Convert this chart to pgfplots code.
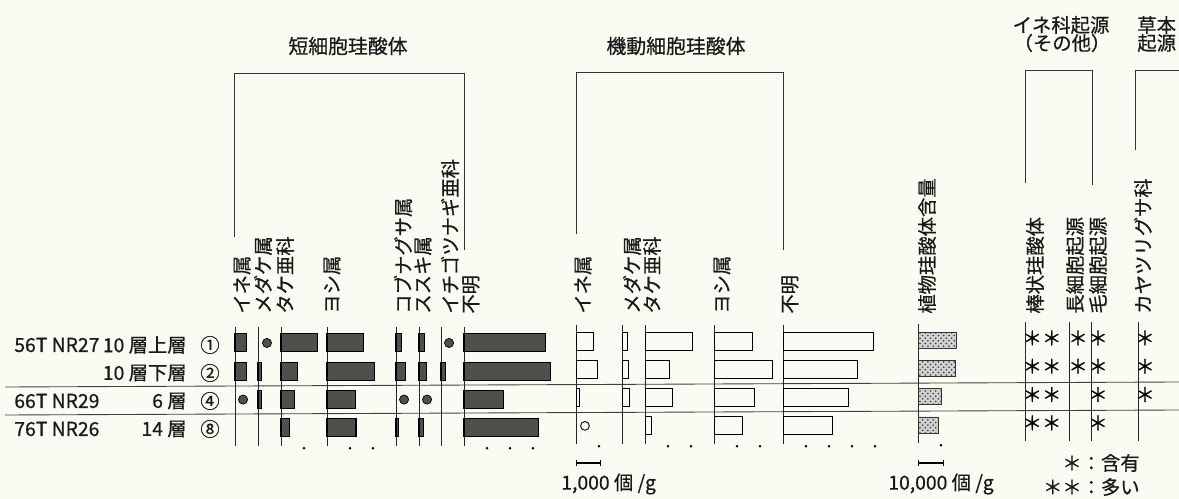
\documentclass[border=0pt]{standalone}
\usepackage{pgfplots}
\pgfplotsset{compat=1.18}
\usepackage{fontspec}
\setmainfont{Noto Sans CJK JP}[FakeBold=0.6]
\usetikzlibrary{patterns}

\definecolor{bg}{RGB}{252,251,243}
\definecolor{dk}{RGB}{80,80,74}
\newcommand{\fs}{\fontsize{11pt}{13pt}\selectfont}

% one column of the diagram: rows 1..4 run downwards, 23px on the page per 1000 (or 10000) grains/g
\pgfplotsset{
  col/.style={scale only axis, width=4.6mm, height=23.77mm,
    xmin=0, xmax=1000, ymin=0.45, ymax=4.65, y dir=reverse, clip=false,
    axis x line=none, axis y line=left, axis line style={-, line width=0.55pt, black!85},
    xtick=\empty, ytick=\empty, anchor=north west},
  sb/.style={xbar, bar width=3.6mm, fill=dk, draw=black, line width=0.6pt},
  mb/.style={xbar, bar width=3.6mm, fill=bg, draw=black, line width=0.5pt},
  tb/.style={xbar, bar width=3.2mm, fill=black!18, draw=black!80, line width=0.4pt,
    postaction={pattern=crosshatch dots, pattern color=black!80}},
  pr/.style={only marks, mark=*, mark size=2.6pt, mark options={fill=dk, draw=black}},
  tk/.style={only marks, mark=*, mark size=0.45pt, black},
  ast/.style={draw=none, point meta=explicit symbolic, nodes near coords,
    nodes near coords style={anchor=center, inner sep=0pt, font=\fs}},
}

\begin{document}
\begin{tikzpicture}
\begin{scope}[x=0.2mm, y=-0.2mm, every node/.style={font=\fs, inner sep=0pt, text=black!90}]
\fill[bg] (0,0) rectangle (1179,499);

% group brackets and titles
\draw[line width=0.5pt, black!80] (234,237) -- (234,73) -- (464,73) -- (464,250);
\draw[line width=0.5pt, black!80] (576,234) -- (576,72) -- (783,72) -- (783,250);
\draw[line width=0.5pt, black!80] (1025,183) -- (1025,70) -- (1092,70) -- (1092,185);
\draw[line width=0.5pt, black!80] (1135,150) -- (1135,70) -- (1190,70);
\node[font=\fontsize{11.3pt}{13pt}\selectfont] at (348,46) {短細胞珪酸体};
\node[font=\fontsize{11.3pt}{13pt}\selectfont] at (676,46) {機動細胞珪酸体};
\node at (1061,25) {イネ科起源};
\node at (1062,43) {（その他）};
\node[anchor=west] at (1137,25) {草本};
\node[anchor=west] at (1137,43) {起源};

% column labels
\foreach \x/\t in {242/イネ属, 263/メダケ属, 285/タケ亜科, 332/ヨシ属, 403/コブナグサ属,
    423/ススキ属, 450/イチゴツナギ亜科, 471/不明, 583/イネ属, 632/メダケ属, 652/タケ亜科,
    722/ヨシ属, 790/不明, 927/植物珪酸体含量, 1035/棒状珪酸体, 1075/長細胞起源,
    1098/毛細胞起源, 1143/カヤツリグサ科}
  \node[rotate=90, anchor=west] at (\x,314) {\t};

% sample labels
\node[anchor=west] at (14,345) {56T NR27};
\node[anchor=east] at (187,345) {10 層上層};
\node at (210,345) {①};
\node[anchor=east] at (187,373) {10 層下層};
\node at (210,373) {②};
\node[anchor=west] at (14,401) {66T NR29};
\node[anchor=east] at (187,401) {6 層};
\node at (210,401) {④};
\node[anchor=west] at (14,429) {76T NR26};
\node[anchor=east] at (187,429) {14 層};
\node at (210,429) {⑧};

% row separators
\draw[line width=0.5pt, black!75] (5,387) -- (1179,382);
\draw[line width=0.5pt, black!75] (5,415) -- (1179,410);

% scale bars and key
\draw[line width=1.3pt] (576,463) -- (600,463);
\draw[line width=0.4pt] (576,460) -- (576,466) (600,460) -- (600,466);
\node[anchor=west] at (561,484) {1,000 個 /g};
\draw[line width=1.3pt] (918,463) -- (943,463);
\draw[line width=0.4pt] (918,460) -- (918,466) (943,460) -- (943,466);
\node[anchor=west] at (888,484) {10,000 個 /g};
\node[anchor=east] at (1140,463) {＊：含有};
\node[anchor=east] at (1140,487) {＊＊：多い};
\end{scope}

% ---- short cell phytoliths (dark bars)
\begin{axis}[col, at={(235*0.2mm,-327.4*0.2mm)}]
\addplot[sb] coordinates {(520,1) (520,2)};
\addplot[pr] coordinates {(350,3)};
\end{axis}
\begin{axis}[col, at={(258*0.2mm,-327.4*0.2mm)}]
\addplot[sb] coordinates {(170,2) (150,3)};
\addplot[pr] coordinates {(390,1)};
\end{axis}
\begin{axis}[col, at={(281*0.2mm,-327.4*0.2mm)}]
\addplot[sb] coordinates {(1570,1) (700,2) (570,3) (350,4)};
\addplot[tk] coordinates {(1000,4.72)};
\end{axis}
\begin{axis}[col, at={(327*0.2mm,-327.4*0.2mm)}]
\addplot[sb] coordinates {(1570,1) (2070,2) (1250,3) (1260,4)};
\addplot[tk] coordinates {(1000,4.72) (2000,4.72)};
\end{axis}
\begin{axis}[col, at={(396*0.2mm,-327.4*0.2mm)}]
\addplot[sb] coordinates {(230,1) (410,2) (120,4)};
\addplot[pr] coordinates {(350,3)};
\end{axis}
\begin{axis}[col, at={(419*0.2mm,-327.4*0.2mm)}]
\addplot[sb] coordinates {(230,1) (320,2) (190,4)};
\addplot[pr] coordinates {(350,3)};
\end{axis}
\begin{axis}[col, at={(441*0.2mm,-327.4*0.2mm)}]
\addplot[sb] coordinates {(190,2)};
\addplot[pr] coordinates {(350,1)};
\end{axis}
\begin{axis}[col, at={(464*0.2mm,-327.4*0.2mm)}]
\addplot[sb] coordinates {(3550,1) (3770,2) (1720,3) (3230,4)};
\addplot[tk] coordinates {(1000,4.72) (2000,4.72) (3000,4.72)};
\end{axis}

% ---- motor cell phytoliths (open bars)
\begin{axis}[col, at={(576*0.2mm,-325.4*0.2mm)}]
\addplot[mb] coordinates {(750,1) (930,2) (150,3)};
\addplot[only marks, mark=o, mark size=2.5pt, mark options={line width=0.5pt}] coordinates {(390,4)};
\addplot[tk] coordinates {(1000,4.72)};
\end{axis}
\begin{axis}[col, at={(622*0.2mm,-325.4*0.2mm)}]
\addplot[mb] coordinates {(220,1) (260,2) (330,3)};
\end{axis}
\begin{axis}[col, at={(645*0.2mm,-325.4*0.2mm)}]
\addplot[mb] coordinates {(2070,1) (1060,2) (1190,3) (260,4)};
\addplot[tk] coordinates {(1000,4.72) (2000,4.72)};
\end{axis}
\begin{axis}[col, at={(714*0.2mm,-325.4*0.2mm)}]
\addplot[mb] coordinates {(1670,1) (2550,2) (1750,3) (1230,4)};
\addplot[tk] coordinates {(1000,4.72) (2000,4.72)};
\end{axis}
\begin{axis}[col, at={(783*0.2mm,-325.4*0.2mm)}]
\addplot[mb] coordinates {(3940,1) (3250,2) (2860,3) (2130,4)};
\addplot[tk] coordinates {(1000,4.72) (2000,4.72) (3000,4.72) (4000,4.72)};
\end{axis}

% ---- total phytolith content (scale 10,000 grains/g)
\begin{axis}[col, xmax=10000, at={(918*0.2mm,-324.4*0.2mm)}]
\addplot[tb] coordinates {(16700,1) (16400,2) (10100,3) (9000,4)};
\addplot[tk] coordinates {(10000,4.72)};
\end{axis}

% ---- presence columns (x in page px offset from the column line)
\begin{axis}[col, width=2mm, xmax=10, at={(1025*0.2mm,-322.4*0.2mm)}]
\addplot[ast] coordinates {(17,1) [＊＊] (17,2) [＊＊] (17,3) [＊＊] (17,4) [＊＊]};
\end{axis}
\begin{axis}[col, width=2mm, xmax=10, at={(1069*0.2mm,-322.4*0.2mm)}]
\addplot[ast] coordinates {(9,1) [＊] (9,2) [＊]};
\end{axis}
\begin{axis}[col, width=2mm, xmax=10, at={(1091*0.2mm,-322.4*0.2mm)}]
\addplot[ast] coordinates {(7,1) [＊] (7,2) [＊] (7,3) [＊] (7,4) [＊]};
\end{axis}
\begin{axis}[col, width=2mm, xmax=10, at={(1138*0.2mm,-322.4*0.2mm)}]
\addplot[ast] coordinates {(7,1) [＊] (7,2) [＊] (7,3) [＊]};
\end{axis}

\pgfresetboundingbox
\path[use as bounding box] (0,0) rectangle (1179*0.2mm,-499*0.2mm);
\end{tikzpicture}
\end{document}
